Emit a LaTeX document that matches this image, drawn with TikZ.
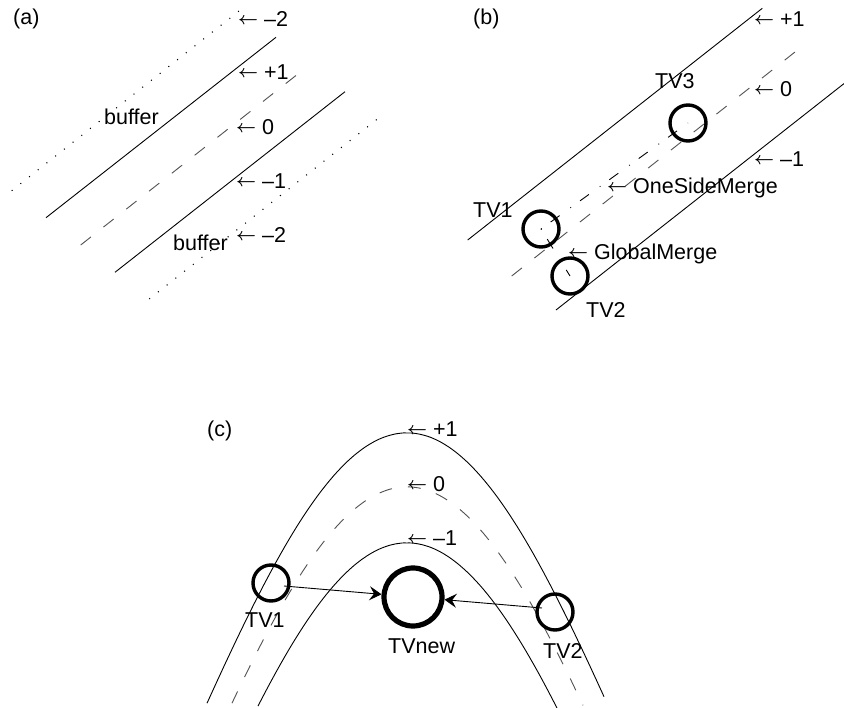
\documentclass[tikz,border=0pt]{standalone}
\usepackage{graphicx}
\usepackage{fontspec}
\setmainfont{Liberation Sans}
\usetikzlibrary{arrows.meta}
\newcommand\larr{\raisebox{2.3pt}{\resizebox{20pt}{!}{\boldmath$\leftarrow$}}}
\begin{document}
\begin{tikzpicture}[x=1pt,y=-1pt,
  every node/.style={font=\fontsize{21.5}{24}\selectfont},
  lab/.style={anchor=base west,inner sep=0pt},
  solidline/.style={line width=0.9pt,black},
  dashline/.style={line width=0.9pt,black!68,dash pattern=on 13pt off 16pt},
  dotline/.style={line width=1.1pt,black,dash pattern=on 1pt off 10.1pt},
  dashdotline/.style={line width=0.9pt,black,dash pattern=on 0.9pt off 11pt on 11pt off 13.3pt},
  tvsmall/.style={circle,draw,line width=3.4pt,minimum size=36pt,inner sep=0pt},
  tvbig/.style={circle,draw,line width=5.2pt,minimum size=58pt,inner sep=0pt},
  arr/.style={line width=0.9pt,-{Stealth[length=12pt,width=14pt,inset=4.5pt]}}]
\useasboundingbox[fill=white] (0,0) rectangle (844,708);
% ---------- (a) ----------
\node[lab] (pa) at (13,25) {(a)};
\draw[dotline] (11.7,190.7) -- (239,11);
\draw[solidline] (46,217.7) -- (276,37.3);
\draw[dashline] (80.7,245) -- (301.7,71);
\draw[solidline] (115,272.3) -- (345,91.7);
\draw[dotline] (149.3,299) -- (378.3,118.3);
\node[lab] (la1) at (238,27) {\larr\ –2};
\node[lab] (la2) at (238,80) {\larr\ +1};
\node[lab] (la3) at (236,135) {\larr\ 0};
\node[lab] (la4) at (236,189) {\larr\ –1};
\node[lab] (la5) at (236,243) {\larr\ –2};
\node[lab] (bufa) at (104,125) {buffer};
\node[lab] (bufb) at (173,251) {buffer};
% ---------- (b) ----------
\node[lab] (pb) at (473,25) {(b)};
\draw[solidline] (467.7,240) -- (762.3,8.3);
\draw[dashline] (511.7,276) -- (801.7,46.7);
\draw[solidline] (556,310) -- (844,83.6);
\node[tvsmall] (b1) at (541,229) {};
\node[tvsmall] (b2) at (570,276) {};
\node[tvsmall] (b3) at (688,123) {};
\draw[dashdotline] (b1.center) -- (b3.center);
\draw[dashdotline] (b1.center) -- (b2.center);
\node[lab] (lb1) at (754,27) {\larr\ +1};
\node[lab] (lb2) at (754,97) {\larr\ 0};
\node[lab] (lb3) at (754,167) {\larr\ –1};
\node[lab] (lbo) at (607,194) {\larr\ OneSideMerge};
\node[lab] (lbg) at (568,260) {\larr\ GlobalMerge};
\node[lab] (tb3) at (655,89) {TV3};
\node[lab] (tb1) at (473,218) {TV1};
\node[lab] (tb2) at (586,318) {TV2};
% ---------- (c) ----------
\node[lab] (pc) at (207,437) {(c)};
\draw[solidline] plot[domain=-200:197,samples=120] ({407+\x},{433+820*(1-exp(-(\x/316.23)^2))});
\draw[dashline] plot[domain=-175:176,samples=120] ({407+\x},{487+820*(1-exp(-(\x/316.23)^2))});
\draw[solidline] plot[domain=-149:151,samples=120] ({407+\x},{543+820*(1-exp(-(\x/316.23)^2))});
\node[lab] (lc1) at (407,437) {\larr\ +1};
\node[lab] (lc2) at (407,492) {\larr\ 0};
\node[lab] (lc3) at (407,546) {\larr\ –1};
\node[tvsmall] (c1) at (271,583) {};
\node[tvbig] (cn) at (413,597) {};
\node[tvsmall] (c2) at (555,612) {};
\coordinate (c1s) at (284,586);
\coordinate (c2s) at (542,608);
\draw[arr] (c1s) -- (cn);
\draw[arr] (c2s) -- (cn);
\node[lab] (tc1) at (245,627) {TV1};
\node[lab] (tcn) at (388,653) {TVnew};
\node[lab] (tc2) at (543,658) {TV2};
\end{tikzpicture}
\end{document}
